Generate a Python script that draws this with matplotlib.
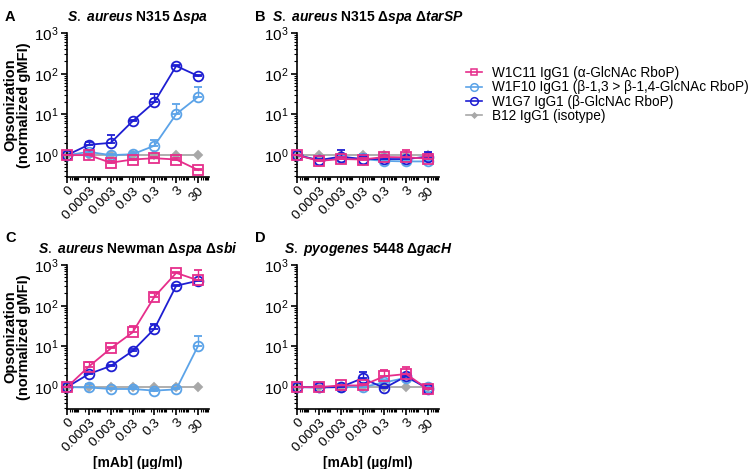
import matplotlib
matplotlib.use('Agg')
import matplotlib.pyplot as plt
import numpy as np
from matplotlib.ticker import LogLocator, FixedLocator, NullFormatter, LogFormatterSciNotation
from matplotlib.lines import Line2D

plt.rcParams['font.family'] = ['Liberation Sans', 'DejaVu Sans']
plt.rcParams['mathtext.fontset'] = 'custom'
plt.rcParams['mathtext.rm'] = 'Liberation Sans'
plt.rcParams['mathtext.it'] = 'Liberation Sans:italic:bold'
plt.rcParams['mathtext.bf'] = 'Liberation Sans:bold'

# ---------------- data ----------------
conc_labels = ['0', '0.0003', '0.003', '0.03', '0.3', '3', '30']
conc = [0, 0.0003, 0.003, 0.03, 0.3, 3, 30]

series_names = ['W1C11 IgG1 (α-GlcNAc RboP)',
                'W1F10 IgG1 (β-1,3 > β-1,4-GlcNAc RboP)',
                'W1G7 IgG1 (β-GlcNAc RboP)',
                'B12 IgG1 (isotype)']

titles = {
    'A': r'$\mathit{S.}$ $\mathit{aureus}$ N315 Δ$\mathit{spa}$',
    'B': r'$\mathit{S.}$ $\mathit{aureus}$ N315 Δ$\mathit{spa}$ Δ$\mathit{tarSP}$',
    'C': r'$\mathit{S.}$ $\mathit{aureus}$ Newman Δ$\mathit{spa}$ Δ$\mathit{sbi}$',
    'D': r'$\mathit{S.}$ $\mathit{pyogenes}$ 5448 Δ$\mathit{gacH}$',
}

# Panel A
A_W1C11 = [1.0, 1.0, 0.65, 0.78, 0.84, 0.78, 0.43]
A_W1C11_up = [1.0, 1.05, 0.70, 0.82, 0.90, 0.85, 0.46]
A_W1F10 = [1.0, 1.2, 1.0, 1.05, 1.7, 10.2, 27]
A_W1F10_up = [1.0, 1.3, 1.05, 1.2, 2.3, 17.6, 46]
A_W1G7 = [1.0, 1.8, 2.0, 6.8, 20, 155, 88]
A_W1G7_up = [1.0, 2.1, 3.1, 7.2, 31, 160, 92]
A_B12 = [1.0, 1.0, 1.0, 1.0, 1.0, 1.0, 1.0]
A_B12_up = [1.0, 1.0, 1.0, 1.0, 1.0, 1.0, 1.0]

# Panel B
B_W1C11 = [1.0, 0.72, 0.80, 0.78, 0.90, 0.88, 0.82]
B_W1C11_up = [1.0, 0.78, 0.88, 0.85, 1.0, 1.3, 0.95]
B_W1F10 = [1.0, 0.75, 0.85, 0.80, 0.72, 0.70, 0.70]
B_W1F10_up = [1.0, 0.82, 0.95, 1.05, 0.80, 0.80, 0.80]
B_W1G7 = [1.0, 0.75, 0.92, 0.80, 0.80, 0.80, 0.92]
B_W1G7_up = [1.0, 0.80, 1.3, 0.88, 0.88, 0.90, 1.2]
B_B12 = [1.0, 1.0, 1.0, 1.0, 1.0, 1.0, 1.0]
B_B12_up = [1.0, 1.0, 1.0, 1.0, 1.0, 1.0, 1.0]

# Panel C
C_W1C11 = [1.0, 3.2, 8.9, 22, 165, 640, 420]
C_W1C11_up = [1.0, 4.2, 9.5, 31, 200, 660, 750]
C_W1F10 = [1.0, 0.98, 0.90, 0.90, 0.82, 0.88, 10.3]
C_W1F10_up = [1.0, 1.2, 0.95, 0.98, 0.88, 0.95, 18]
C_W1G7 = [1.0, 2.1, 3.3, 7.7, 27, 310, 410]
C_W1G7_up = [1.0, 2.2, 3.5, 8.5, 35, 320, 430]
C_B12 = [1.0, 1.0, 1.0, 1.0, 1.0, 1.0, 1.0]
C_B12_up = [1.0, 1.0, 1.0, 1.0, 1.0, 1.0, 1.0]

# Panel D
D_W1C11 = [1.0, 1.0, 1.1, 1.1, 1.85, 2.1, 0.88]
D_W1C11_up = [1.0, 1.05, 1.15, 1.2, 2.7, 3.2, 0.95]
D_W1F10 = [1.0, 1.0, 1.0, 1.0, 1.3, 1.7, 1.0]
D_W1F10_up = [1.0, 1.05, 1.05, 1.05, 1.5, 1.9, 1.08]
D_W1G7 = [1.0, 0.98, 1.0, 1.65, 0.95, 1.85, 0.9]
D_W1G7_up = [1.0, 1.02, 1.05, 2.35, 1.0, 2.0, 0.95]
D_B12 = [1.0, 1.0, 1.0, 1.0, 1.0, 1.0, 1.0]
D_B12_up = [1.0, 1.0, 1.0, 1.0, 1.0, 1.0, 1.0]

panels = {
    'A': [(A_W1C11, A_W1C11_up), (A_W1F10, A_W1F10_up), (A_W1G7, A_W1G7_up), (A_B12, A_B12_up)],
    'B': [(B_W1C11, B_W1C11_up), (B_W1F10, B_W1F10_up), (B_W1G7, B_W1G7_up), (B_B12, B_B12_up)],
    'C': [(C_W1C11, C_W1C11_up), (C_W1F10, C_W1F10_up), (C_W1G7, C_W1G7_up), (C_B12, C_B12_up)],
    'D': [(D_W1C11, D_W1C11_up), (D_W1F10, D_W1F10_up), (D_W1G7, D_W1G7_up), (D_B12, D_B12_up)],
}

# ---------------- style ----------------
colors = ['#E62E8B', '#5BA3E8', '#1E1ED2', '#A8A8A8']
markers = ['s', 'o', 'o', 'D']
msizes = [6.5, 7, 7, 4]
zorders = [5, 3, 4, 2]

ZERO_POS = 3e-5  # plotting position of the "0" concentration
xpos = [ZERO_POS if c == 0 else c for c in conc]

W, H = 755, 469
boxes = {'A': (67, 33, 209, 177), 'B': (297, 33, 439, 177),
         'C': (67, 265, 209, 409), 'D': (297, 265, 439, 409)}

fig = plt.figure(figsize=(W / 100, H / 100), dpi=100)

for key, (l, t, r, b) in boxes.items():
    ax = fig.add_axes([l / W, 1 - b / H, (r - l) / W, (b - t) / H])
    for i, (vals, up) in enumerate(panels[key]):
        vals = np.array(vals)
        up = np.array(up)
        err = np.vstack([np.zeros_like(vals), np.maximum(up - vals, 0)])
        fill = colors[i] if i == 3 else 'none'
        ax.errorbar(xpos, vals, yerr=err, color=colors[i], lw=1.3,
                    marker=markers[i], ms=msizes[i], mfc=fill, mec=colors[i],
                    mew=1.3, capsize=3, elinewidth=1.0, capthick=1.0,
                    zorder=zorders[i], clip_on=False)
    ax.set_xscale('log')
    ax.set_yscale('log')
    ax.set_xlim(ZERO_POS, 95)
    ax.set_ylim(0.29, 1000)
    ax.xaxis.set_major_locator(FixedLocator(xpos))
    ax.set_xticklabels(conc_labels, rotation=45, ha='right', rotation_mode='anchor')
    ax.xaxis.set_minor_locator(LogLocator(base=10, subs=np.arange(1, 10), numticks=50))
    ax.xaxis.set_minor_formatter(NullFormatter())
    ax.yaxis.set_major_locator(FixedLocator([1, 10, 100, 1000]))
    ax.yaxis.set_major_formatter(LogFormatterSciNotation())
    ax.yaxis.set_minor_locator(LogLocator(base=10, subs=np.arange(2, 10), numticks=50))
    ax.yaxis.set_minor_formatter(NullFormatter())
    ax.tick_params(axis='both', which='major', length=4, width=1.2)
    ax.tick_params(axis='y', which='major', labelsize=11, pad=2)
    ax.tick_params(axis='x', which='major', labelsize=9.7, pad=1.5)
    ax.tick_params(axis='both', which='minor', length=2.5, width=0.8)
    for s in ['top', 'right']:
        ax.spines[s].set_visible(False)
    for s in ['left', 'bottom']:
        ax.spines[s].set_linewidth(1.2)
    ax.set_title(titles[key], fontsize=10, fontweight='bold', pad=9)
    if key in ('A', 'C'):
        ax.set_ylabel('Opsonization\n(normalized gMFI)', fontsize=10.5, fontweight='bold',
                      labelpad=2, linespacing=1.0)
    if key in ('C', 'D'):
        ax.set_xlabel('[mAb] (µg/ml)', fontsize=10, fontweight='bold', labelpad=1)

# panel letters
for key, (lx, ly) in {'A': (5, 17), 'B': (255, 17), 'C': (5, 238), 'D': (255, 238)}.items():
    fig.text(lx / W, 1 - ly / H, key, fontsize=10.5, fontweight='bold', va='center', ha='left')

handles = [Line2D([0], [0], color=colors[i], lw=1.2, marker=markers[i], ms=msizes[i] - 1.5,
                  mfc=(colors[i] if i == 3 else 'none'), mec=colors[i], mew=1.1)
           for i in range(4)]
fig.legend(handles, series_names, loc='upper left', bbox_to_anchor=(466 / W, 1 - 66 / H),
           frameon=False, fontsize=9.8, handlelength=1.2, handletextpad=0.7, labelspacing=0.03,
           borderaxespad=0, borderpad=0)

fig.savefig('out.png', dpi=100)
